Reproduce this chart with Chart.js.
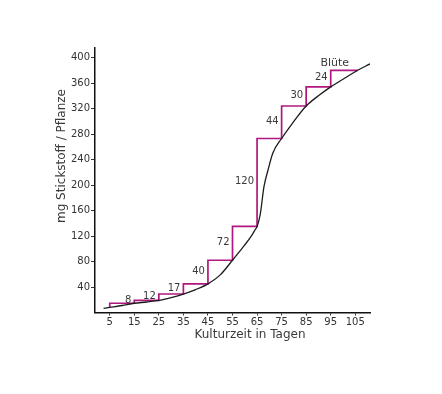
<!DOCTYPE html>
<html><head><meta charset="utf-8">
<script src="https://cdn.jsdelivr.net/npm/chart.js@4/dist/chart.umd.min.js"></script>
<style>html,body{margin:0;padding:0;background:#fff;}#wrap{width:442px;height:394px;}</style>
</head><body><div id="wrap"><canvas id="c" width="442" height="394"></canvas></div>
<script>
// x axis tick labels (days) and y axis tick labels (mg)
const xTicks = [5,15,25,35,45,55,65,75,85,95,105];
const yTicks = [40,80,120,160,200,240,280,320,360,400];
// smooth uptake curve
const curveDays = [2.5,5,10,15,20,25,30,35,40,45,50,55,57.5,60,62.5,64,65,66.3,67.8,69.5,71.4,75,80,85,90,95,100,106,111];
const curveN    = [6.5,8,11,14.5,16.5,19,23.5,29,36,45,59,82,94,106,119,128.5,135,154,197,224,250,273,300,324,340,354,366,380,390];
// staircase: rise days, levels after each rise
const stepDays   = [5,15,25,35,45,55,65,75,85,95];
const stepEnd    = 106;
const stepStart  = 8;
const stepLevels = [14.5,19,29,45,82,135,273,324,354,380];
// increments written next to the rises at day 15 ... 95
const stepLabels = ['8','12','17','40','72','120','44','30','24'];
const flowerLabel = 'Blüte';
const xTitle = 'Kulturzeit in Tagen';
const yTitle = 'mg Stickstoff / Pflanze';

const MAGENTA = '#b0177f';
const FONT = "'DejaVu Sans', sans-serif";

const stepPts = [{x: stepDays[0], y: stepStart}];
stepDays.forEach((d, i) => {
  stepPts.push({x: d, y: stepLevels[i]});
  const next = i + 1 < stepDays.length ? stepDays[i + 1] : stepEnd;
  stepPts.push({x: next, y: stepLevels[i]});
});

const textPlugin = {
  id: 'texts',
  afterDraw(chart) {
    const ctx = chart.ctx, xs = chart.scales.x, ys = chart.scales.y;
    ctx.save();
    ctx.fillStyle = '#3a3a3a';
    ctx.font = '10px ' + FONT;
    ctx.textAlign = 'right';
    ctx.textBaseline = 'middle';
    stepLabels.forEach((t, i) => {
      const d = stepDays[i + 1];
      const lo = ys.getPixelForValue(stepLevels[i]);
      const hi = ys.getPixelForValue(stepLevels[i + 1]);
      ctx.fillText(t, xs.getPixelForValue(d) - 3, (lo + hi) / 2 - 1);
    });
    ctx.textAlign = 'center';
    ctx.textBaseline = 'alphabetic';
    ctx.font = '11px ' + FONT;
    ctx.fillText(flowerLabel, xs.getPixelForValue(stepDays[stepDays.length - 1]) + 4, ys.getPixelForValue(stepLevels[stepLevels.length - 1]) - 4);
    // axis titles
    ctx.font = '12px ' + FONT;
    ctx.textBaseline = 'middle';
    ctx.fillText(xTitle, 250, 335);
    ctx.translate(62, 156);
    ctx.rotate(-Math.PI / 2);
    ctx.fillText(yTitle, 0, 0);
    ctx.restore();
  }
};

new Chart(document.getElementById('c'), {
  type: 'line',
  data: {
    datasets: [
      { data: curveDays.map((d, i) => ({x: d, y: curveN[i]})), borderColor: '#1c1c1c', borderWidth: 1.3,
        pointRadius: 0, cubicInterpolationMode: 'monotone', fill: false },
      { data: stepPts, borderColor: MAGENTA, borderWidth: 1.7, pointRadius: 0, tension: 0, fill: false }
    ]
  },
  options: {
    responsive: false, animation: false, devicePixelRatio: 1,
    layout: { padding: { left: 0, top: 48, right: 72, bottom: 0 } },
    plugins: { legend: { display: false }, tooltip: { enabled: false } },
    scales: {
      x: {
        type: 'linear', min: -1, max: 111,
        afterBuildTicks: s => { s.ticks = xTicks.map(v => ({value: v})); },
        afterFit: s => { s.height = 81.5; },
        grid: { drawOnChartArea: false, drawTicks: true, tickLength: 3, color: '#333' },
        border: { display: true, color: '#111', width: 1.5 },
        ticks: { padding: 1, color: '#333', font: { size: 10, family: FONT }, maxRotation: 0, autoSkip: false }
      },
      y: {
        type: 'linear', min: 0, max: 415,
        afterBuildTicks: s => { s.ticks = yTicks.map(v => ({value: v})); },
        afterFit: s => { s.width = 95; },
        grid: { drawOnChartArea: false, drawTicks: true, tickLength: 4, color: '#333' },
        border: { display: true, color: '#111', width: 1.5 },
        ticks: { padding: 1, color: '#333', font: { size: 10, family: FONT }, autoSkip: false }
      }
    }
  },
  plugins: [textPlugin]
});
</script></body></html>
